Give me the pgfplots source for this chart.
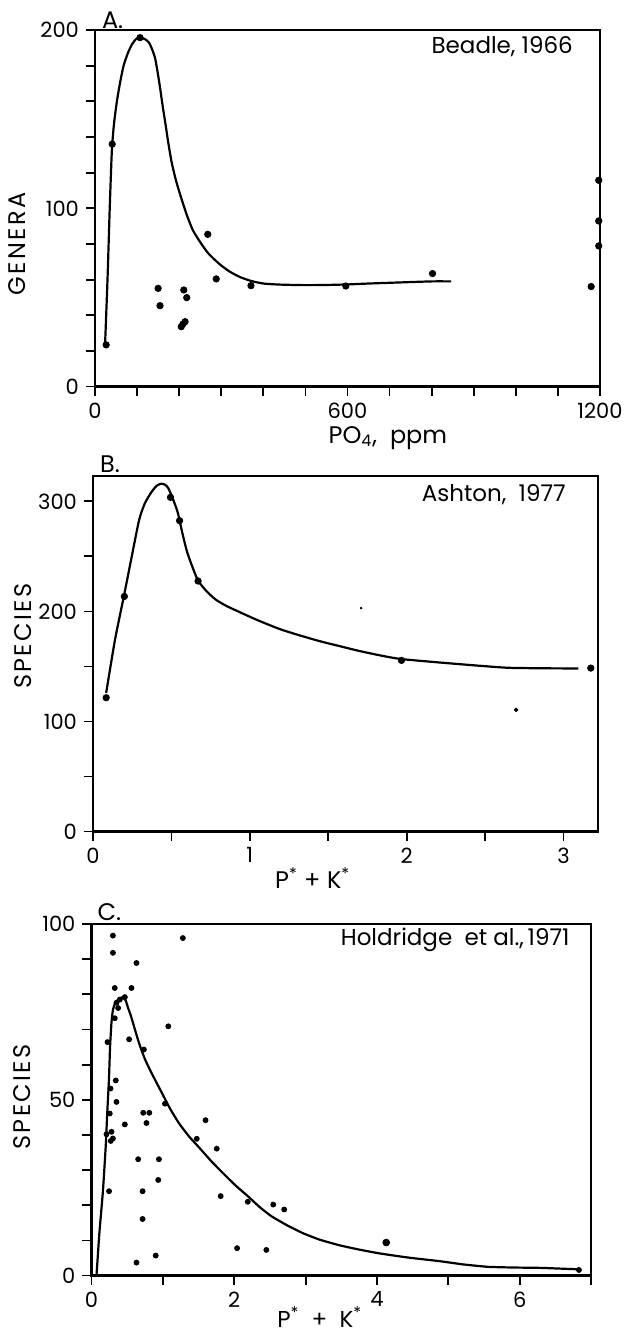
\documentclass[border=0pt]{standalone}
\usepackage{fontspec}
\setmainfont{Poppins}
\usepackage{pgfplots}
\pgfplotsset{compat=1.18}
\newfontfamily\lblfont[LetterSpace=10]{Poppins}

\pgfplotsset{
  panel/.style={
    scale only axis, anchor=south west, clip=false,
    axis line style={line width=1.2pt},
    tick style={black, line width=0.9pt},
    tick align=outside, major tick length=4.5pt, minor tick length=4.5pt,
    xtick pos=lower, ytick pos=left,
    tick label style={font=\fontsize{10.5}{12}\selectfont},
    /pgf/number format/assume math mode=true,
    /pgf/number format/1000 sep={},
    label style={font=\fontsize{12}{14}\selectfont},
  },
  dots/.style={only marks, mark=*, mark size=1.6pt, black},
  curve/.style={black, line width=1.1pt, smooth, tension=0.4, mark=none},
}

\begin{document}
\begin{tikzpicture}
\useasboundingbox (0,0) rectangle (313pt,667pt);

% A. Beadle
\begin{axis}[panel, at={(47.5pt,473.7pt)}, width=252.5pt, height=178.3pt,
    xmin=0, xmax=1200, ymin=0, ymax=200,
    xtick={0,600,1200}, minor xtick={100,200,300,400,500,700,800,900,1000,1100},
    ytick={0,100,200}, minor ytick={20,40,60,80,120,140,160,180},
    xlabel={PO\textsubscript{4},\ \ ppm},
    ylabel={\lblfont GENERA},
    xlabel style={at={(axis description cs:0.58,-0.144)}, anchor=center},
    ylabel style={at={(axis description cs:-0.154,0.40)}, anchor=center},
]
\addplot[curve] coordinates {
(24,24) (30,62) (35,100) (40,132) (45,147) (52,160) (60,171) (68,180) (78,187)
(88,192) (98,195) (108,195.6) (118,195) (128,193) (136,189) (143,184) (149,176)
(155,167) (161,157) (167,148) (174,137) (182,126) (192,116) (202,108) (217,97)
(232,88) (250,81) (270,74.5) (297,68.5) (320,64.5) (344,61.5) (370,59.3)
(400,57.8) (440,57.2) (500,56.9) (550,57) (600,57.3) (650,57.8) (723,58.4)
(800,59) (846,59)
};
\addplot[dots] coordinates {
(26.5,23.4) (40.8,136) (107,195.7) (150,55.1) (154.5,45.4) (211,54.2) (218,49.9)
(205,33.6) (209,35.1) (214,36.4) (268,85.4) (288,60.4) (370.6,56.6) (596,56.4)
(802,63.4) (1179,56.1) (1197,115.7) (1197,92.9) (1197,78.9)
};
\node[anchor=base west, font=\fontsize{12}{14}\selectfont] at (axis description cs:0,1.005) {A.};
\node[anchor=east, font=\fontsize{11.5}{13}\selectfont] at (axis description cs:0.96,0.952) {Beadle, 1966};
\end{axis}

% B. Ashton
\begin{axis}[panel, at={(46.5pt,251.2pt)}, width=252.5pt, height=177.8pt,
    xmin=0, xmax=3.22, ymin=0, ymax=323,
    xtick={0,1,2,3}, minor xtick={0.5,1.5,2.5},
    ytick={0,100,200,300}, minor ytick={50,150,250},
    xlabel={P\textsuperscript{*}\ +\ K\textsuperscript{*}},
    ylabel={\lblfont SPECIES},
    xlabel style={at={(axis description cs:0.435,-0.13)}, anchor=center},
    ylabel style={at={(axis description cs:-0.139,0.55)}, anchor=center},
]
\addplot[curve] coordinates {
(0.084,126) (0.14,174) (0.2,216) (0.25,252) (0.294,283) (0.33,298) (0.371,308)
(0.405,314) (0.435,316) (0.46,315) (0.48,312) (0.51,302) (0.54,290) (0.57,271)
(0.6,254) (0.635,240) (0.67,228) (0.72,219) (0.78,211) (0.85,205) (0.933,199.5)
(1.05,192) (1.19,184) (1.3,179) (1.445,173) (1.6,167.5) (1.70,164) (1.85,159.5)
(1.967,156.7) (2.21,153.6) (2.45,150.8) (2.647,148.8) (2.9,148.3) (3.095,148.2)
};
\addplot[dots] coordinates {
(0.084,121.6) (0.2,213.6) (0.494,303.6) (0.552,282.4) (0.67,227.6) (1.967,155.5) (3.174,148.5)
};
\addplot[dots, mark size=0.9pt] coordinates {(2.698,110.6)};
\addplot[dots, mark size=0.4pt] coordinates {(1.71,203)};
\node[anchor=base west, font=\fontsize{12}{14}\selectfont] at (axis description cs:0,1.01) {B.};
\node[anchor=east, font=\fontsize{11.5}{13}\selectfont] at (axis description cs:0.95,0.947) {Ashton,\ \ 1977};
\end{axis}

% C. Holdridge
\begin{axis}[panel, at={(45.75pt,29.2pt)}, width=249.8pt, height=175.8pt,
    xmin=0, xmax=7, ymin=0, ymax=100,
    xtick={0,2,4,6}, minor xtick={1,3,5,7},
    ytick={0,50,100}, minor ytick={10,20,30,40,60,70,80,90},
    xlabel={P\textsuperscript{*}\ \ +\ \ K\textsuperscript{*}},
    ylabel={\lblfont SPECIES},
    xlabel style={at={(axis description cs:0.457,-0.118)}, anchor=center, font=\fontsize{11.5}{13}\selectfont},
    ylabel style={at={(axis description cs:-0.138,0.508)}, anchor=center},
]
\addplot[curve, tension=0.3] coordinates {
(0.07,0) (0.11,12) (0.16,24) (0.2,37) (0.22,46) (0.245,56) (0.26,65) (0.28,72)
(0.3,75.5) (0.33,77.5) (0.38,78.6) (0.44,79.2) (0.48,78.2) (0.51,76.3) (0.55,74)
(0.58,72) (0.63,68.5) (0.68,65.3) (0.75,61.5) (0.82,58.5) (0.9,55.3) (0.98,52.2)
(1.1,47.5) (1.23,43.2) (1.37,39.5) (1.514,36.3) (1.68,32.5) (1.85,29.0)
(2.02,25.6) (2.19,22.6) (2.35,19.6) (2.52,16.9) (2.75,14.2) (2.97,12.0)
(3.2,10.2) (3.48,8.6) (3.75,7.4) (4.04,6.3) (4.45,5.1) (4.88,4.1) (5.2,3.2)
(5.55,2.5) (5.9,2.3) (6.28,2.2) (6.55,2.0) (6.81,1.8)
};
\addplot[dots, mark size=1.25pt] coordinates {
(0.30,96.7) (1.28,96.0) (0.30,91.8) (0.63,88.9) (0.326,81.8) (0.56,81.8)
(0.467,79.2) (0.397,78.5) (0.35,77.6) (0.373,76.1)
(0.326,73.2) (1.076,70.9) (0.224,66.4) (0.527,67.2) (0.734,64.3) (0.34,55.5) (0.266,53.2)
(0.35,49.4) (0.256,46.1) (1.03,48.9) (0.725,46.3) (0.81,46.3) (0.467,43.0) (0.77,43.4)
(0.21,40.2) (0.28,40.9) (0.30,39.0) (0.27,38.3)
(1.475,38.9) (0.654,33.1) (0.945,33.1) (0.935,27.2) (0.246,24.0) (0.716,24.0)
(0.716,16.1) (0.90,5.7) (0.63,3.7)
(1.598,44.2) (1.755,36.1) (1.81,22.6) (2.19,21.0) (2.546,20.2) (2.70,18.8)
(2.04,7.8) (2.45,7.3) (6.83,1.6)
};
\addplot[dots, mark size=1.7pt] coordinates {(4.13,9.4)};
\node[anchor=base west, font=\fontsize{12}{14}\selectfont] at (axis description cs:-0.002,1.01) {C.};
\node[anchor=east, font=\fontsize{11.5}{13}\selectfont] at (axis description cs:0.971,0.954) {Holdridge\ \ et al.,\,1971};
\end{axis}
\end{tikzpicture}
\end{document}
